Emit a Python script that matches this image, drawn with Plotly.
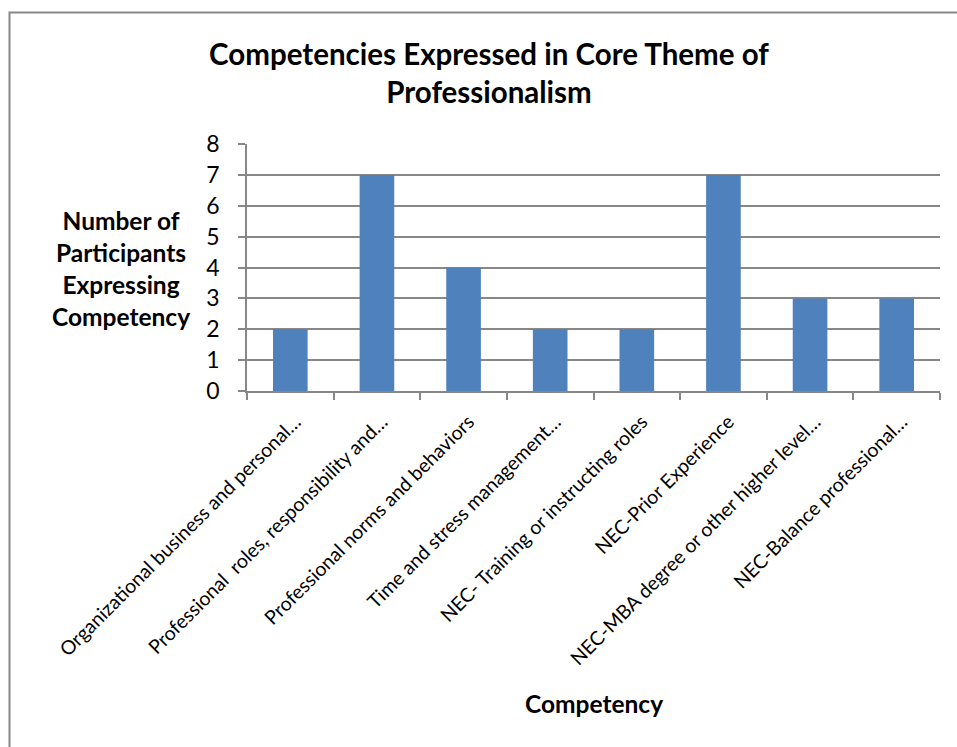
import plotly.graph_objects as go

categories = [
    "Organizational business and personal…",
    "Professional  roles, responsibility and…",
    "Professional norms and behaviors",
    "Time and stress management…",
    "NEC- Training or instructing roles",
    "NEC-Prior Experience",
    "NEC-MBA degree or other higher level…",
    "NEC-Balance professional…",
]
values = [2, 7, 4, 2, 2, 7, 3, 3]
y_ticks = [0, 1, 2, 3, 4, 5, 6, 7, 8]

W, H = 957, 747
L, R, T, B = 247, 17, 144, 356
pw, ph = W - L - R, H - T - B

def px(x):
    return (x - L) / pw

def py(y):
    return (H - B - y) / ph

FONT = "Lato, Carlito, Calibri, sans-serif"

fig = go.Figure(go.Bar(
    x=categories, y=values,
    marker=dict(color="#4F81BD", line=dict(width=0)),
    width=0.4,
))

fig.update_layout(
    width=W, height=H,
    margin=dict(l=L, r=R, t=T, b=B, pad=0),
    paper_bgcolor="white", plot_bgcolor="white",
    font=dict(family=FONT, color="black"),
    showlegend=False,
    title=dict(
        text="<b>Competencies Expressed in Core Theme of<br>Professionalism</b>",
        x=489 / W, xanchor="center", xref="container",
        y=1 - 65 / H, yanchor="middle", yref="container",
        font=dict(size=29.5, family=FONT, color="black"),
    ),
    xaxis=dict(
        type="category",
        tickangle=-45,
        tickfont=dict(size=19.5, family=FONT, color="black"),
        ticklabelstandoff=10,
        ticklabelshift=5,
        showgrid=False,
        showline=True, linecolor="#878787", linewidth=1.5,
        ticks="outside", tickson="boundaries", ticklen=7, tickcolor="#878787", tickwidth=1.5,
        range=[-0.5, 7.5],
        automargin=False,
    ),
    yaxis=dict(
        range=[0, 8],
        tickvals=y_ticks,
        tickfont=dict(size=23, family=FONT, color="black"),
        ticklabelstandoff=14,
        showgrid=True, gridcolor="#878787", gridwidth=1.5,
        showline=True, linecolor="#878787", linewidth=1.5,
        ticks="outside", ticklen=7, tickcolor="#878787", tickwidth=1.5,
        zeroline=False,
        automargin=False,
    ),
    shapes=[
        dict(type="rect", xref="paper", yref="paper",
             x0=px(9.5), x1=px(1000), y0=py(12.5), y1=py(800),
             line=dict(color="#878787", width=2), fillcolor="rgba(0,0,0,0)", layer="below"),
    ],
    annotations=[
        dict(text="<b>Number of<br>Participants<br>Expressing<br>Competency</b>",
             xref="paper", yref="paper", x=px(121), y=py(268),
             xanchor="center", yanchor="middle", showarrow=False, align="center",
             font=dict(size=24.5, family=FONT, color="black")),
        dict(text="<b>Competency</b>",
             xref="paper", yref="paper", x=px(594), y=py(703),
             xanchor="center", yanchor="middle", showarrow=False,
             font=dict(size=24.5, family=FONT, color="black")),
    ],
)

fig.write_html("out.html")
